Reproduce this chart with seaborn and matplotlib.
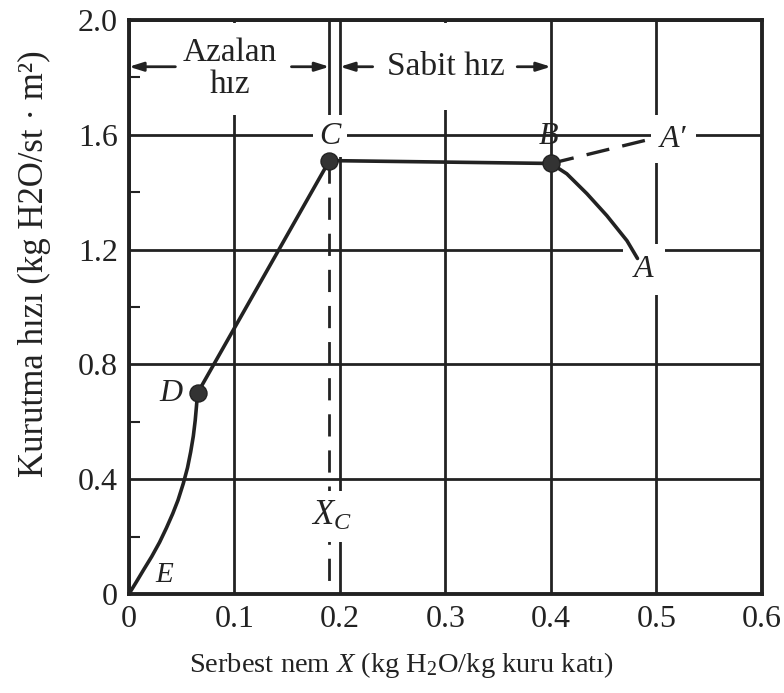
import matplotlib
matplotlib.use("Agg")
import matplotlib.pyplot as plt
import seaborn as sns
import pandas as pd

# Drying-rate curve data: free moisture X (kg H2O / kg dry solid) vs drying rate R
x_constant = [0.19, 0.40]          # C -> B, constant-rate period
r_constant = [1.51, 1.50]
x_warmup = [0.40, 0.415, 0.434, 0.453, 0.472, 0.482]   # B -> A, initial adjustment
r_warmup = [1.50, 1.464, 1.395, 1.318, 1.231, 1.169]
x_warmup_alt = [0.40, 0.50]        # B -> A'
r_warmup_alt = [1.50, 1.59]
x_falling1 = [0.19, 0.065]         # C -> D, first falling-rate period
r_falling1 = [1.51, 0.70]
x_falling2 = [0.065, 0.0640, 0.0628, 0.0610, 0.0585, 0.0555, 0.0515, 0.0465, 0.0415,
              0.0355, 0.0290, 0.0215, 0.0140, 0.0070, 0.0]   # D -> E
r_falling2 = [0.70, 0.655, 0.605, 0.550, 0.495, 0.440, 0.385, 0.327, 0.280,
              0.230, 0.180, 0.130, 0.085, 0.042, 0.0]
point_x = [0.19, 0.40, 0.065]      # C, B, D
point_r = [1.51, 1.50, 0.70]
x_critical = 0.19

x_ticks = [0, 0.1, 0.2, 0.3, 0.4, 0.5, 0.6]
x_ticklabels = ["0", "0.1", "0.2", "0.3", "0.4", "0.5", "0.6"]
y_ticks = [0, 0.4, 0.8, 1.2, 1.6, 2.0]
y_ticklabels = ["0", "0.4", "0.8", "1.2", "1.6", "2.0"]
y_minor = [0.2, 0.6, 1.0, 1.4, 1.8]

sns.set_theme(style="white")
plt.rcParams["font.family"] = ["Liberation Serif", "DejaVu Serif"]
plt.rcParams["mathtext.fontset"] = "custom"
plt.rcParams["mathtext.rm"] = "Liberation Serif"
plt.rcParams["mathtext.it"] = "Liberation Serif:italic"

ink = "#222222"

fig = plt.figure(figsize=(7.84, 6.93), dpi=100)
ax = fig.add_axes([0.1645, 0.1429, 0.8074, 0.8283])

ax.set_xlim(0, 0.6)
ax.set_ylim(0, 2.0)
ax.set_xticks(x_ticks)
ax.set_xticklabels(x_ticklabels)
ax.set_yticks(y_ticks)
ax.set_yticklabels(y_ticklabels)
ax.set_yticks(y_minor, minor=True)
ax.tick_params(axis="both", which="major", length=0, labelsize=23, pad=8, colors=ink)
ax.tick_params(axis="y", which="minor", direction="in", length=8, width=1.5, left=True, color=ink)
ax.grid(True, which="major", color=ink, lw=2)
ax.set_axisbelow(True)
for s in ax.spines.values():
    s.set_color(ink)
    s.set_linewidth(2.8)
    s.set_zorder(2.5)

line_kw = dict(color=ink, lw=2.6, sort=False, estimator=None, legend=False, zorder=4)
sns.lineplot(data=pd.DataFrame({"X": x_constant, "R": r_constant}), x="X", y="R", ax=ax, **line_kw)
sns.lineplot(data=pd.DataFrame({"X": x_warmup, "R": r_warmup}), x="X", y="R", ax=ax, **line_kw)
sns.lineplot(data=pd.DataFrame({"X": x_falling1, "R": r_falling1}), x="X", y="R", ax=ax, **line_kw)
sns.lineplot(data=pd.DataFrame({"X": x_falling2, "R": r_falling2}), x="X", y="R", ax=ax, **line_kw)
sns.lineplot(data=pd.DataFrame({"X": x_warmup_alt, "R": r_warmup_alt}), x="X", y="R",
             ax=ax, color=ink, lw=2.4, sort=False, estimator=None, legend=False, zorder=4)
ax.lines[-1].set_dashes([7, 4])

sns.scatterplot(x=point_x, y=point_r, ax=ax, s=150, color="#333333", edgecolor=ink,
                linewidth=1, zorder=5, legend=False)

# critical moisture content marker: solid above C, dashed below
ax.plot([x_critical, x_critical], [point_r[0], 0], color=ink, lw=2, dashes=[8, 5], zorder=2)
ax.plot([x_critical, x_critical], [point_r[0], 2.0], color=ink, lw=2, zorder=2)

ax.set_xlabel(r"Serbest nem $\mathit{X}$ (kg H$_2$O/kg kuru katı)", fontsize=20.5, color=ink)
ax.xaxis.set_label_coords(0.43, -0.098)
ax.set_ylabel("Kurutma hızı (kg H2O/st · m²)", fontsize=25, color=ink)
ax.yaxis.set_label_coords(-0.123, 0.575)

lab = dict(style="italic", color=ink, ha="center", va="center")
ax.text(0.1905, 1.595, "C", fontsize=23, zorder=3,
        bbox=dict(boxstyle="square,pad=0.2", fc="white", ec="none"), **lab)
ax.text(0.398, 1.595, "B", fontsize=23, zorder=6, **lab)
ax.text(0.516, 1.585, "A\u2032", fontsize=23, zorder=3,
        bbox=dict(boxstyle="square,pad=0.3", fc="white", ec="none"), **lab)
ax.text(0.488, 1.13, "A", fontsize=23, zorder=3,
        bbox=dict(boxstyle="square,pad=0.35", fc="white", ec="none"), **lab)
ax.text(0.040, 0.70, "D", fontsize=23, zorder=6, **lab)
ax.text(0.033, 0.065, "E", fontsize=21, zorder=6, **lab)
ax.text(0.192, 0.27, r"$X_C$", fontsize=25, color=ink, ha="center", va="center", zorder=3,
        bbox=dict(boxstyle="square,pad=0.25", fc="white", ec="none"))

# period annotations across the top
ax.text(0.096, 1.83, "Azalan\nhız", fontsize=24, color=ink, ha="center", va="center",
        linespacing=1.05, zorder=2.3, bbox=dict(boxstyle="square,pad=0.45", fc="white", ec="none"))
ax.text(0.300, 1.837, "Sabit hız", fontsize=24, color=ink, ha="center", va="center",
        zorder=2.3, bbox=dict(boxstyle="square,pad=0.85", fc="white", ec="none"))

arrow = dict(arrowstyle="-|>,head_length=0.7,head_width=0.22", color=ink, lw=2, shrinkA=0, shrinkB=0)
ax.annotate("", xy=(0.0, 1.837), xytext=(0.044, 1.837), arrowprops=arrow, zorder=5)
ax.annotate("", xy=(x_critical, 1.837), xytext=(0.154, 1.837), arrowprops=arrow, zorder=5)
ax.annotate("", xy=(0.2, 1.837), xytext=(0.231, 1.837), arrowprops=arrow, zorder=5)
ax.annotate("", xy=(0.4, 1.837), xytext=(0.368, 1.837), arrowprops=arrow, zorder=5)

fig.savefig("out.png", dpi=100, facecolor="white")
